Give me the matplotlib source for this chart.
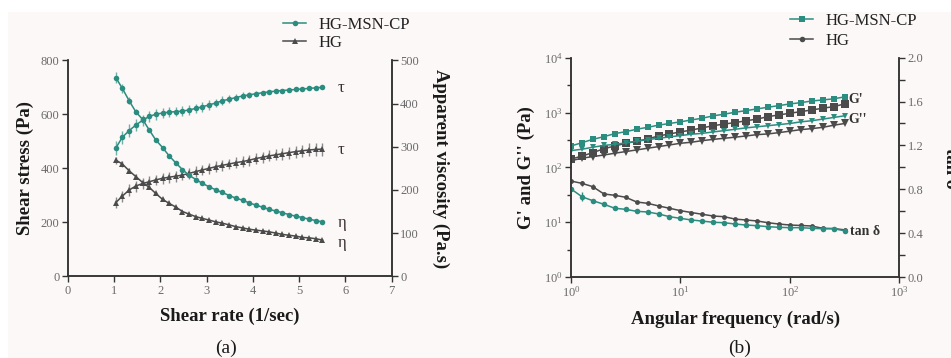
import matplotlib
matplotlib.use("Agg")
import matplotlib.pyplot as plt
from matplotlib.lines import Line2D
from matplotlib.patches import Rectangle
from matplotlib.ticker import FixedLocator, MultipleLocator, NullFormatter

plt.rcParams['font.family'] = ['Liberation Serif', 'DejaVu Serif']
plt.rcParams['mathtext.fontset'] = 'stix'

TEAL = '#2b8c80'
GREY = '#4b4b4b'
TICK_C = '#6a6a6a'

# ---- panel (a): flow curves ----
shear_rate = [1.04, 1.18, 1.33, 1.47, 1.62, 1.76, 1.90, 2.05, 2.19, 2.34, 2.48,
              2.62, 2.77, 2.91, 3.06, 3.20, 3.34, 3.49, 3.63, 3.78, 3.92, 4.06,
              4.21, 4.35, 4.50, 4.64, 4.78, 4.93, 5.07, 5.22, 5.36, 5.50]

msn_stress = [475, 515, 540, 560, 578, 592, 600, 605, 608, 610, 612, 616, 622, 628,
              635, 642, 650, 656, 662, 668, 672, 676, 680, 683, 686, 688, 690, 692,
              694, 696, 698, 700]
msn_stress_err = [25, 25, 25, 22, 20, 20, 20, 18, 18, 18, 18, 18, 18, 18, 18, 16,
                  16, 15, 14, 13, 12, 10, 8, 6, 4, 3, 2, 2, 2, 2, 2, 2]
hg_stress = [273, 297, 320, 334, 344, 350, 357, 363, 367, 371, 375, 381, 388, 394,
             400, 406, 411, 416, 421, 425, 430, 436, 441, 446, 450, 454, 458, 462,
             465, 468, 470, 471]
hg_stress_err = [20, 20, 22, 20, 20, 20, 20, 20, 20, 20, 20, 20, 20, 20, 20, 20,
                 20, 20, 20, 20, 20, 20, 20, 20, 20, 22, 22, 22, 22, 24, 24, 24]

msn_visc = [460, 435, 406, 381, 363, 339, 316, 298, 279, 262, 247, 234, 224, 215,
            207, 200, 194, 187, 181, 176, 170, 165, 160, 155, 151, 147, 143, 139,
            136, 132, 129, 126]
msn_visc_err = [12, 10, 8, 6, 5, 4, 4, 4, 3, 3, 2, 2, 2, 2, 2, 2, 2, 2, 2, 2, 2, 2,
                2, 2, 2, 2, 2, 2, 2, 2, 2, 2]
hg_visc = [269, 260, 244, 231, 217, 206, 192, 178, 169, 160, 150, 144, 138, 134,
           130, 126, 123, 119, 115, 112, 109, 107, 105, 103, 100, 97, 95, 93, 90,
           89, 87, 84]
hg_visc_err = [8, 8, 6, 5, 5, 4, 4, 4, 3, 3, 3, 2, 2, 2, 2, 2, 2, 2, 2, 2, 2, 2,
               2, 2, 2, 2, 2, 2, 2, 2, 2, 2]

# ---- panel (b): frequency sweep ----
ang_freq = [1.0, 1.26, 1.58, 2.0, 2.51, 3.16, 3.98, 5.01, 6.31, 7.94, 10.0, 12.6,
            15.8, 20.0, 25.1, 31.6, 39.8, 50.1, 63.1, 79.4, 100, 126, 158, 200,
            251, 316]

msn_g1 = [245, 282, 324, 363, 412, 447, 496, 537, 589, 631, 676, 733, 787, 871,
          933, 1012, 1084, 1164, 1250, 1337, 1435, 1514, 1622, 1698, 1778, 1928]
msn_g2 = [202, 214, 233, 251, 263, 279, 299, 321, 339, 359, 380, 402, 417, 443,
          468, 495, 525, 550, 575, 603, 631, 676, 708, 759, 813, 871]
hg_g1 = [141, 161, 185, 219, 245, 275, 299, 330, 374, 407, 443, 479, 525, 575,
         617, 655, 708, 759, 841, 904, 971, 1038, 1114, 1197, 1282, 1435]
hg_g2 = [132, 147, 157, 168, 181, 194, 208, 223, 239, 256, 275, 287, 307, 324,
         339, 355, 374, 395, 407, 430, 457, 488, 508, 537, 586, 631]

msn_tan = [0.803, 0.732, 0.696, 0.663, 0.627, 0.617, 0.599, 0.593, 0.575, 0.550,
           0.535, 0.520, 0.510, 0.499, 0.495, 0.483, 0.474, 0.468, 0.459, 0.453,
           0.450, 0.450, 0.444, 0.440, 0.440, 0.422]
msn_tan_err = [0, 0.04, 0, 0, 0, 0, 0, 0, 0, 0, 0, 0, 0, 0, 0, 0, 0, 0, 0, 0, 0,
               0, 0, 0, 0, 0]
hg_tan = [0.875, 0.854, 0.824, 0.757, 0.745, 0.727, 0.684, 0.672, 0.648, 0.627,
          0.605, 0.588, 0.572, 0.556, 0.550, 0.528, 0.520, 0.511, 0.495, 0.483,
          0.474, 0.470, 0.465, 0.444, 0.442, 0.430]
hg_tan_err = [0.02, 0.025, 0.025, 0.02, 0.02, 0.01, 0.01, 0.01, 0.01, 0.01, 0.01,
              0.01, 0.01, 0.01, 0.01, 0.01, 0.01, 0.01, 0.01, 0.01, 0.01, 0.01,
              0.01, 0.01, 0.01, 0.01]

W, H = 951, 358
fig = plt.figure(figsize=(W / 100, H / 100), dpi=100)
fig.patches.append(Rectangle((8 / W, 0), 1, 1 - 12 / H, transform=fig.transFigure,
                             facecolor='#fcf8f7', edgecolor='none', zorder=-10))


def px(x0, y0, x1, y1):
    return [x0 / W, 1 - y1 / H, (x1 - x0) / W, (y1 - y0) / H]


def style_axis(ax):
    ax.patch.set_alpha(0)
    ax.spines['top'].set_visible(False)
    for s in ('left', 'bottom', 'right'):
        ax.spines[s].set_color('#333333')
        ax.spines[s].set_linewidth(1.1)
    ax.tick_params(which='major', direction='out', length=4, width=1.0,
                   color='#333333', labelcolor=TICK_C, labelsize=9, pad=2)
    ax.tick_params(which='minor', direction='out', length=3, width=1.0,
                   color='#333333')


def err(ax, x, y, e, color, marker, ms, ecolor):
    ax.errorbar(x, y, yerr=e, color=color, marker=marker, ms=ms, lw=1.1,
                ecolor=ecolor, elinewidth=1.0, capsize=3, capthick=1.0,
                markeredgewidth=0)


LBL = dict(fontsize=13.5, fontweight='bold', color='#1a1a1a')

# ---------- (a) ----------
ax1 = fig.add_axes(px(67.7, 60.3, 391.7, 276.3))
ax1r = ax1.twinx()
style_axis(ax1)
style_axis(ax1r)
err(ax1, shear_rate, msn_stress, msn_stress_err, TEAL, 'o', 4, '#6fb0a7')
err(ax1, shear_rate, hg_stress, hg_stress_err, GREY, '^', 4, '#8a8a8a')
err(ax1r, shear_rate, msn_visc, msn_visc_err, TEAL, 'o', 4, '#6fb0a7')
err(ax1r, shear_rate, hg_visc, hg_visc_err, GREY, '^', 4, '#8a8a8a')
ax1.set_xlim(0, 7)
ax1.set_ylim(0, 800)
ax1r.set_ylim(0, 500)
ax1.set_xticks(range(0, 8))
ax1.set_yticks(range(0, 801, 200))
ax1r.set_yticks(range(0, 501, 100))
ax1.set_xlabel('Shear rate (1/sec)', labelpad=8, **LBL)
ax1.set_ylabel('Shear stress (Pa)', labelpad=5, **LBL)
ax1r.set_ylabel('Apparent viscosity (Pa.s)', rotation=270, labelpad=22, **LBL)
for t, yv in (('τ', 697), ('τ', 468), ('η', 197), ('η', 123)):
    ax1.text(5.84, yv, t, fontsize=12, color='#3a3030', va='center', ha='left')

h1 = [Line2D([], [], color=TEAL, marker='o', ms=4, lw=1.1, mew=0),
      Line2D([], [], color=GREY, marker='^', ms=4, lw=1.1, mew=0)]
fig.legend(h1, ['HG-MSN-CP', 'HG'], loc='center left',
           bbox_to_anchor=(283 / W, 1 - 34 / H), frameon=False, fontsize=12,
           handlelength=1.4, handletextpad=0.75, labelspacing=0.12,
           borderpad=0, borderaxespad=0, labelcolor='#222222')

# ---------- (b) ----------
ax2 = fig.add_axes(px(571, 57.7, 899.3, 277))
ax2r = ax2.twinx()
style_axis(ax2)
style_axis(ax2r)
ax2.set_xscale('log')
ax2.set_yscale('log')
ax2.plot(ang_freq, msn_g1, color=TEAL, marker='s', ms=4, lw=1.1, mew=0)
ax2.plot(ang_freq, hg_g1, color=GREY, marker='s', ms=5.5, lw=1.1, mew=0)
ax2.plot(ang_freq, msn_g2, color=TEAL, marker='v', ms=4, lw=1.1, mew=0)
ax2.plot(ang_freq, hg_g2, color=GREY, marker='v', ms=5.5, lw=1.1, mew=0)
err(ax2r, ang_freq, hg_tan, hg_tan_err, GREY, 'o', 3.5, GREY)
err(ax2r, ang_freq, msn_tan, msn_tan_err, TEAL, 'o', 4, TEAL)
ax2.set_xlim(1, 1000)
ax2.set_ylim(1, 1e4)
ax2r.set_ylim(0, 2.0)
ax2.xaxis.set_major_locator(FixedLocator([1, 10, 100, 1000]))
ax2.xaxis.set_minor_locator(FixedLocator([]))
ax2.yaxis.set_major_locator(FixedLocator([1, 10, 100, 1000, 10000]))
ax2.yaxis.set_minor_locator(FixedLocator([10 ** (k + 0.5) for k in range(4)]))
ax2.yaxis.set_minor_formatter(NullFormatter())
ax2r.yaxis.set_major_locator(MultipleLocator(0.4))
ax2r.yaxis.set_minor_locator(MultipleLocator(0.2))
ax2r.yaxis.set_major_formatter(matplotlib.ticker.FormatStrFormatter('%.1f'))
ax2r.tick_params(which='minor', length=4)
ax2.set_xlabel('Angular frequency (rad/s)', labelpad=8, **LBL)
ax2.set_ylabel("G' and G'' (Pa)", labelpad=6, **LBL)
ax2.text(340, 1700, "G'", fontsize=10, fontweight='bold', color='#333333',
         va='center', ha='left')
ax2.text(340, 755, "G''", fontsize=10, fontweight='bold', color='#333333',
         va='center', ha='left')
ax2r.text(355, 0.413, 'tan δ', fontsize=10, fontweight='bold', color='#333333',
          va='center', ha='left')
# right axis title runs off the edge of the figure, as in the source
fig.text(942 / W, 1 - 168 / H, 'tan δ', rotation=270, ha='left', va='center',
         **LBL)

h2 = [Line2D([], [], color=TEAL, marker='s', ms=4, lw=1.1, mew=0),
      Line2D([], [], color=GREY, marker='o', ms=4, lw=1.1, mew=0)]
fig.legend(h2, ['HG-MSN-CP', 'HG'], loc='center left',
           bbox_to_anchor=(790 / W, 1 - 31 / H), frameon=False, fontsize=12,
           handlelength=1.4, handletextpad=0.75, labelspacing=0.25,
           borderpad=0, borderaxespad=0, labelcolor='#222222')

fig.text(225.7 / W, 1 - 348 / H, '(a)', fontsize=14, ha='center', va='center',
         color='#1a1a1a')
fig.text(740 / W, 1 - 348 / H, '(b)', fontsize=14, ha='center', va='center',
         color='#1a1a1a')

fig.savefig('out.png', dpi=100)
